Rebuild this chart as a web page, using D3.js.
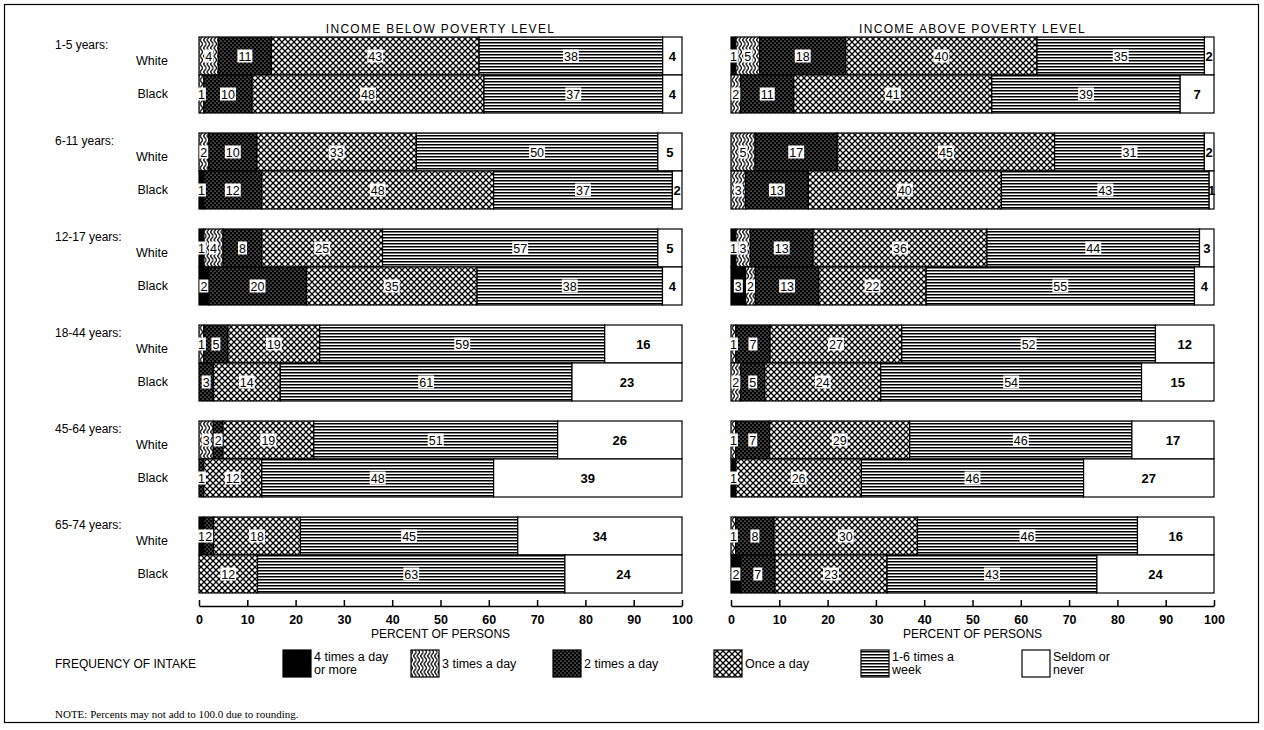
<!DOCTYPE html>
<html>
<head>
<meta charset="utf-8">
<script src="https://cdn.jsdelivr.net/npm/d3@7"></script>
<style>
  html, body { margin: 0; padding: 0; background: #fff; }
  svg text { font-family: "Liberation Sans", Arial, Helvetica, sans-serif; fill: #000; }
</style>
</head>
<body>
<svg id="chart" width="1264" height="730"></svg>
<script>
// ---------------- DATA ----------------
const ageGroups = ["1-5 years:", "6-11 years:", "12-17 years:", "18-44 years:", "45-64 years:", "65-74 years:"];
const races = ["White", "Black"];
const frequencies = ["4 times a day or more", "3 times a day", "2 times a day", "Once a day", "1-6 times a week", "Seldom or never"];
const panelTitles = ["INCOME BELOW POVERTY LEVEL", "INCOME ABOVE POVERTY LEVEL"];
const xTicks = [0, 10, 20, 30, 40, 50, 60, 70, 80, 90, 100];

// values per age group: [White row, Black row], each in frequency order
const belowPoverty = [
  [[0, 4, 11, 43, 38, 4], [0, 1, 10, 48, 37, 4]],
  [[0, 2, 10, 33, 50, 5], [1, 0, 12, 48, 37, 2]],
  [[1, 4, 8, 25, 57, 5], [2, 0, 20, 35, 38, 4]],
  [[0, 1, 5, 19, 59, 16], [0, 0, 3, 14, 61, 23]],
  [[0, 3, 2, 19, 51, 26], [0, 0, 1, 12, 48, 39]],
  [[1, 0, 2, 18, 45, 34], [0, 0, 0, 12, 63, 24]]
];
const abovePoverty = [
  [[1, 5, 18, 40, 35, 2], [0, 2, 11, 41, 39, 7]],
  [[0, 5, 17, 45, 31, 2], [0, 3, 13, 40, 43, 1]],
  [[1, 3, 13, 36, 44, 3], [3, 2, 13, 22, 55, 4]],
  [[0, 1, 7, 27, 52, 12], [0, 2, 5, 24, 54, 15]],
  [[0, 1, 7, 29, 46, 17], [1, 0, 0, 26, 46, 27]],
  [[0, 1, 8, 30, 46, 16], [2, 0, 7, 23, 43, 24]]
];
const legendLines = [["4 times a day", "or more"], ["3 times a day"], ["2 times a day"], ["Once a day"], ["1-6 times a", "week"], ["Seldom or", "never"]];

// ---------------- SETUP ----------------
const svg = d3.select("#chart");
const defs = svg.append("defs");

// patterns
const pFour = defs.append("pattern").attr("id", "p0").attr("patternUnits", "userSpaceOnUse").attr("width", 4).attr("height", 4);
pFour.append("rect").attr("width", 4).attr("height", 4).attr("fill", "#000");

const pThree = defs.append("pattern").attr("id", "p1").attr("patternUnits", "userSpaceOnUse").attr("width", 3.5).attr("height", 8);
pThree.append("rect").attr("width", 3.5).attr("height", 8).attr("fill", "#fff");
pThree.append("path").attr("d", "M0,-0.5 L3.5,4 L0,8.5").attr("fill", "none").attr("stroke", "#000").attr("stroke-width", 1.3);

const pTwo = defs.append("pattern").attr("id", "p2").attr("patternUnits", "userSpaceOnUse").attr("width", 4).attr("height", 4);
pTwo.append("rect").attr("width", 4).attr("height", 4).attr("fill", "#000");
pTwo.append("circle").attr("cx", 1).attr("cy", 1).attr("r", 0.6).attr("fill", "#fff");
pTwo.append("circle").attr("cx", 3).attr("cy", 3).attr("r", 0.6).attr("fill", "#fff");

const pOnce = defs.append("pattern").attr("id", "p3").attr("patternUnits", "userSpaceOnUse").attr("width", 6).attr("height", 6);
pOnce.append("rect").attr("width", 6).attr("height", 6).attr("fill", "#fff");
pOnce.append("path").attr("d", "M-1,-1 L7,7 M7,-1 L-1,7").attr("stroke", "#000").attr("stroke-width", 1.3);

const pWeek = defs.append("pattern").attr("id", "p4").attr("patternUnits", "userSpaceOnUse").attr("width", 8).attr("height", 3);
pWeek.append("rect").attr("width", 8).attr("height", 3).attr("fill", "#fff");
pWeek.append("rect").attr("y", 0).attr("width", 8).attr("height", 1.5).attr("fill", "#000");

const pNever = defs.append("pattern").attr("id", "p5").attr("patternUnits", "userSpaceOnUse").attr("width", 4).attr("height", 4);
pNever.append("rect").attr("width", 4).attr("height", 4).attr("fill", "#fff");

const fillFor = i => `url(#p${i})`;

// frame
svg.append("rect").attr("x", 4.5).attr("y", 4.5).attr("width", 1254).attr("height", 718)
  .attr("fill", "none").attr("stroke", "#000").attr("stroke-width", 1.2);

// scales
const yGroup = d3.scaleBand().domain(ageGroups).range([37, 593]).paddingInner(20 / 96).paddingOuter(0);
const yRace = d3.scaleBand().domain(races).range([0, yGroup.bandwidth()]).padding(0);

const panelRanges = [[199, 682], [731, 1214]];
const panelData = [belowPoverty, abovePoverty];

const stack = d3.stack().keys(d3.range(frequencies.length)).offset(d3.stackOffsetExpand);

// row labels
ageGroups.forEach((ag, gi) => {
  const gy = yGroup(ag);
  svg.append("text").attr("x", 55).attr("y", gy + 12).attr("font-size", 12).text(ag);
  races.forEach(r => {
    const cy = gy + yRace(r) + yRace.bandwidth() / 2 + (r === "White" ? 8.5 : 4);
    svg.append("text").attr("x", 168).attr("y", cy).attr("text-anchor", "end").attr("font-size", 12.5).text(r);
  });
});

panelRanges.forEach((rng, pi) => {
  const x = d3.scaleLinear().domain([0, 1]).range(rng);
  const g = svg.append("g");

  // title
  g.append("text").attr("x", (rng[0] + rng[1]) / 2).attr("y", 33).attr("text-anchor", "middle")
    .attr("font-size", 12).attr("letter-spacing", 1.3).text(panelTitles[pi]);

  const data = panelData[pi];
  ageGroups.forEach((ag, gi) => {
    const rows = races.map((r, ri) => Object.assign({}, data[gi][ri]));
    const series = stack(rows);
    races.forEach((r, ri) => {
      const y0 = yGroup(ag) + yRace(r);
      const h = yRace.bandwidth();
      series.forEach((s, fi) => {
        const seg = s[ri];
        const v = data[gi][ri][fi];
        if (v <= 0) return;
        g.append("rect")
          .attr("x", x(seg[0])).attr("y", y0)
          .attr("width", Math.max(0, x(seg[1]) - x(seg[0]))).attr("height", h)
          .attr("fill", fillFor(fi)).attr("stroke", "#000").attr("stroke-width", 1.2);
      });
      // labels
      series.forEach((s, fi) => {
        const seg = s[ri];
        const v = data[gi][ri][fi];
        if (v <= 0) return;
        const cx = (x(seg[0]) + x(seg[1])) / 2;
        const cy = y0 + h / 2;
        if (fi === 5) {
          g.append("text").attr("x", cx).attr("y", cy + 5).attr("text-anchor", "middle")
            .attr("font-size", 13).attr("font-weight", "bold").text(v);
        } else {
          const t = g.append("text").attr("x", cx).attr("y", cy + 4.5).attr("text-anchor", "middle")
            .attr("font-size", 12.5).text(v);
          const w = t.node().getComputedTextLength();
          g.insert("rect", () => t.node())
            .attr("x", cx - w / 2 - 1).attr("y", cy - 6.5).attr("width", w + 2).attr("height", 13)
            .attr("fill", "#fff");
        }
      });
    });
  });

  // axis
  const axis = d3.axisBottom(x).tickValues(xTicks.map(d => d / 100)).tickFormat(d => Math.round(d * 100)).tickSize(0).tickPadding(9);
  const ag = g.append("g").attr("transform", "translate(0,606)").call(axis);
  ag.select(".domain").attr("stroke", "#000").attr("stroke-width", 1.5);
  ag.selectAll(".tick line").attr("y2", -6).attr("stroke", "#000").attr("stroke-width", 1.5);
  ag.selectAll(".tick text").attr("font-size", 12.5).attr("font-weight", "bold")
    .attr("font-family", "'Liberation Sans', Arial, sans-serif").attr("fill", "#000");

  g.append("text").attr("x", (rng[0] + rng[1]) / 2).attr("y", 638).attr("text-anchor", "middle")
    .attr("font-size", 12).text("PERCENT OF PERSONS");
});

// legend
svg.append("text").attr("x", 55).attr("y", 668).attr("font-size", 12).text("FREQUENCY OF INTAKE");
const legendX = d3.scaleOrdinal().domain(d3.range(frequencies.length)).range([283, 411, 553, 714, 861, 1022]);
frequencies.forEach((f, i) => {
  const lx = legendX(i);
  svg.append("rect").attr("x", lx).attr("y", 650).attr("width", 28).attr("height", 27)
    .attr("fill", fillFor(i)).attr("stroke", "#000").attr("stroke-width", 1.2);
  const lines = legendLines[i];
  if (lines.length === 1) {
    svg.append("text").attr("x", lx + 31).attr("y", 668).attr("font-size", 12.5).text(lines[0]);
  } else {
    lines.forEach((ln, k) => {
      svg.append("text").attr("x", lx + 31).attr("y", 661 + k * 13).attr("font-size", 12.5).text(ln);
    });
  }
});

svg.append("text").attr("x", 55).attr("y", 718).attr("font-size", 11)
  .style("font-family", "'Liberation Serif', 'Times New Roman', serif")
  .text("NOTE: Percents may not add to 100.0 due to rounding.");
</script>
</body>
</html>
